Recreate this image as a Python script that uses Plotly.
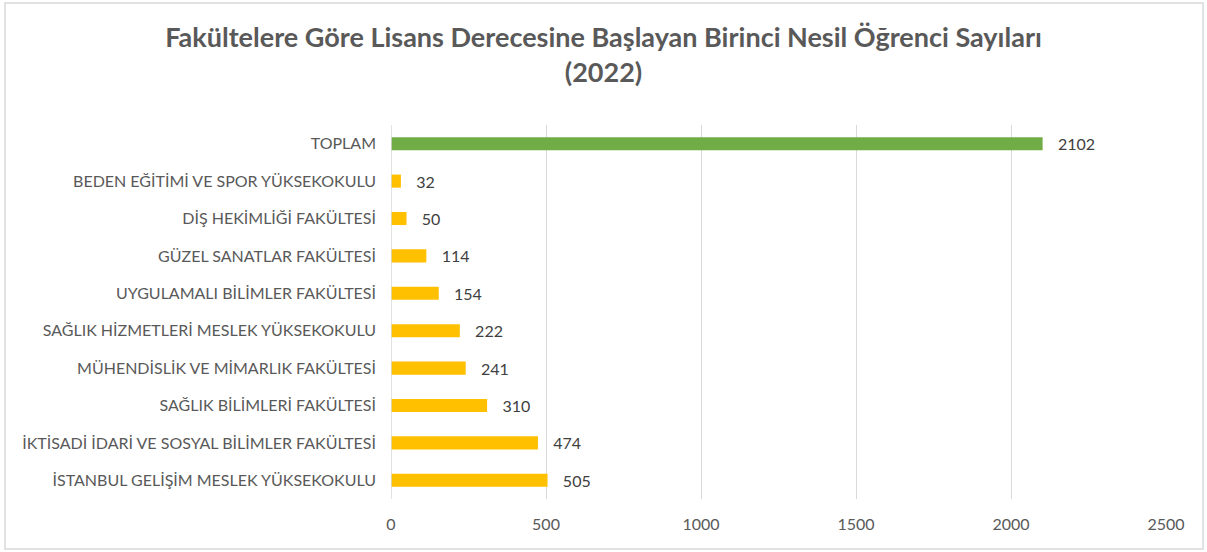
import plotly.graph_objects as go

categories = [
    "İSTANBUL GELİŞİM MESLEK YÜKSEKOKULU",
    "İKTİSADİ İDARİ VE SOSYAL BİLİMLER FAKÜLTESİ",
    "SAĞLIK BİLİMLERİ FAKÜLTESİ",
    "MÜHENDİSLİK VE MİMARLIK FAKÜLTESİ",
    "SAĞLIK HİZMETLERİ MESLEK YÜKSEKOKULU",
    "UYGULAMALI BİLİMLER FAKÜLTESİ",
    "GÜZEL SANATLAR FAKÜLTESİ",
    "DİŞ HEKİMLİĞİ FAKÜLTESİ",
    "BEDEN EĞİTİMİ VE SPOR YÜKSEKOKULU",
    "TOPLAM",
]
values = [505, 474, 310, 241, 222, 154, 114, 50, 32, 2102]
bar_colors = ["#FFC000"] * 9 + ["#70AD47"]
x_ticks = [0, 500, 1000, 1500, 2000, 2500]

W, H = 1207, 552
L, R, T, B = 391, 41, 125, 53
FONT = "Lato, Open Sans, sans-serif"

fig = go.Figure(go.Bar(
    y=categories, x=values, orientation="h",
    marker=dict(color=bar_colors, line=dict(width=0)),
    width=0.35,
    text=values, texttemplate="   %{x}", textposition="outside",
    constraintext="none",
    textfont=dict(size=16, color="#404040", family=FONT),
    cliponaxis=False,
))

pw, ph = W - L - R, H - T - B
def px(x): return (x - L) / pw
def py(y): return (H - B - y) / ph

fig.update_layout(
    width=W, height=H,
    margin=dict(l=L, r=R, t=T, b=B),
    plot_bgcolor="white", paper_bgcolor="white",
    font=dict(family=FONT, color="#595959", size=16),
    title=dict(
        text="<b>Fakültelere Göre Lisans Derecesine Başlayan Birinci Nesil Öğrenci Sayıları<br>(2022)</b>",
        x=0.5, xref="container", xanchor="center",
        y=1 - 47 / H, yref="container", yanchor="middle",
        font=dict(size=27, color="#595959", family=FONT),
    ),
    xaxis=dict(
        range=[0, 2500], tickvals=x_ticks, showgrid=True, gridcolor="#D9D9D9",
        gridwidth=1, zeroline=False, showline=False, ticks="",
        tickfont=dict(size=16, color="#595959"), ticklabelstandoff=14,
        fixedrange=True,
    ),
    yaxis=dict(
        showgrid=False, showline=False, ticks="", ticklabelstandoff=14,
        tickfont=dict(size=16, color="#595959"), automargin=False,
        fixedrange=True,
    ),
    showlegend=False,
    shapes=[
        dict(type="rect", xref="paper", yref="paper",
             x0=px(5), x1=px(1203), y0=py(3), y1=py(549),
             line=dict(color="#D9D9D9", width=1.5), fillcolor="rgba(0,0,0,0)", layer="below"),
        dict(type="line", xref="x", yref="paper", x0=0, x1=0, y0=0, y1=1,
             line=dict(color="#D9D9D9", width=1.5)),
    ],
)

fig.write_html("out.html", config={"displayModeBar": False},
               post_script="document.body.style.margin='0';document.body.style.padding='0';")
